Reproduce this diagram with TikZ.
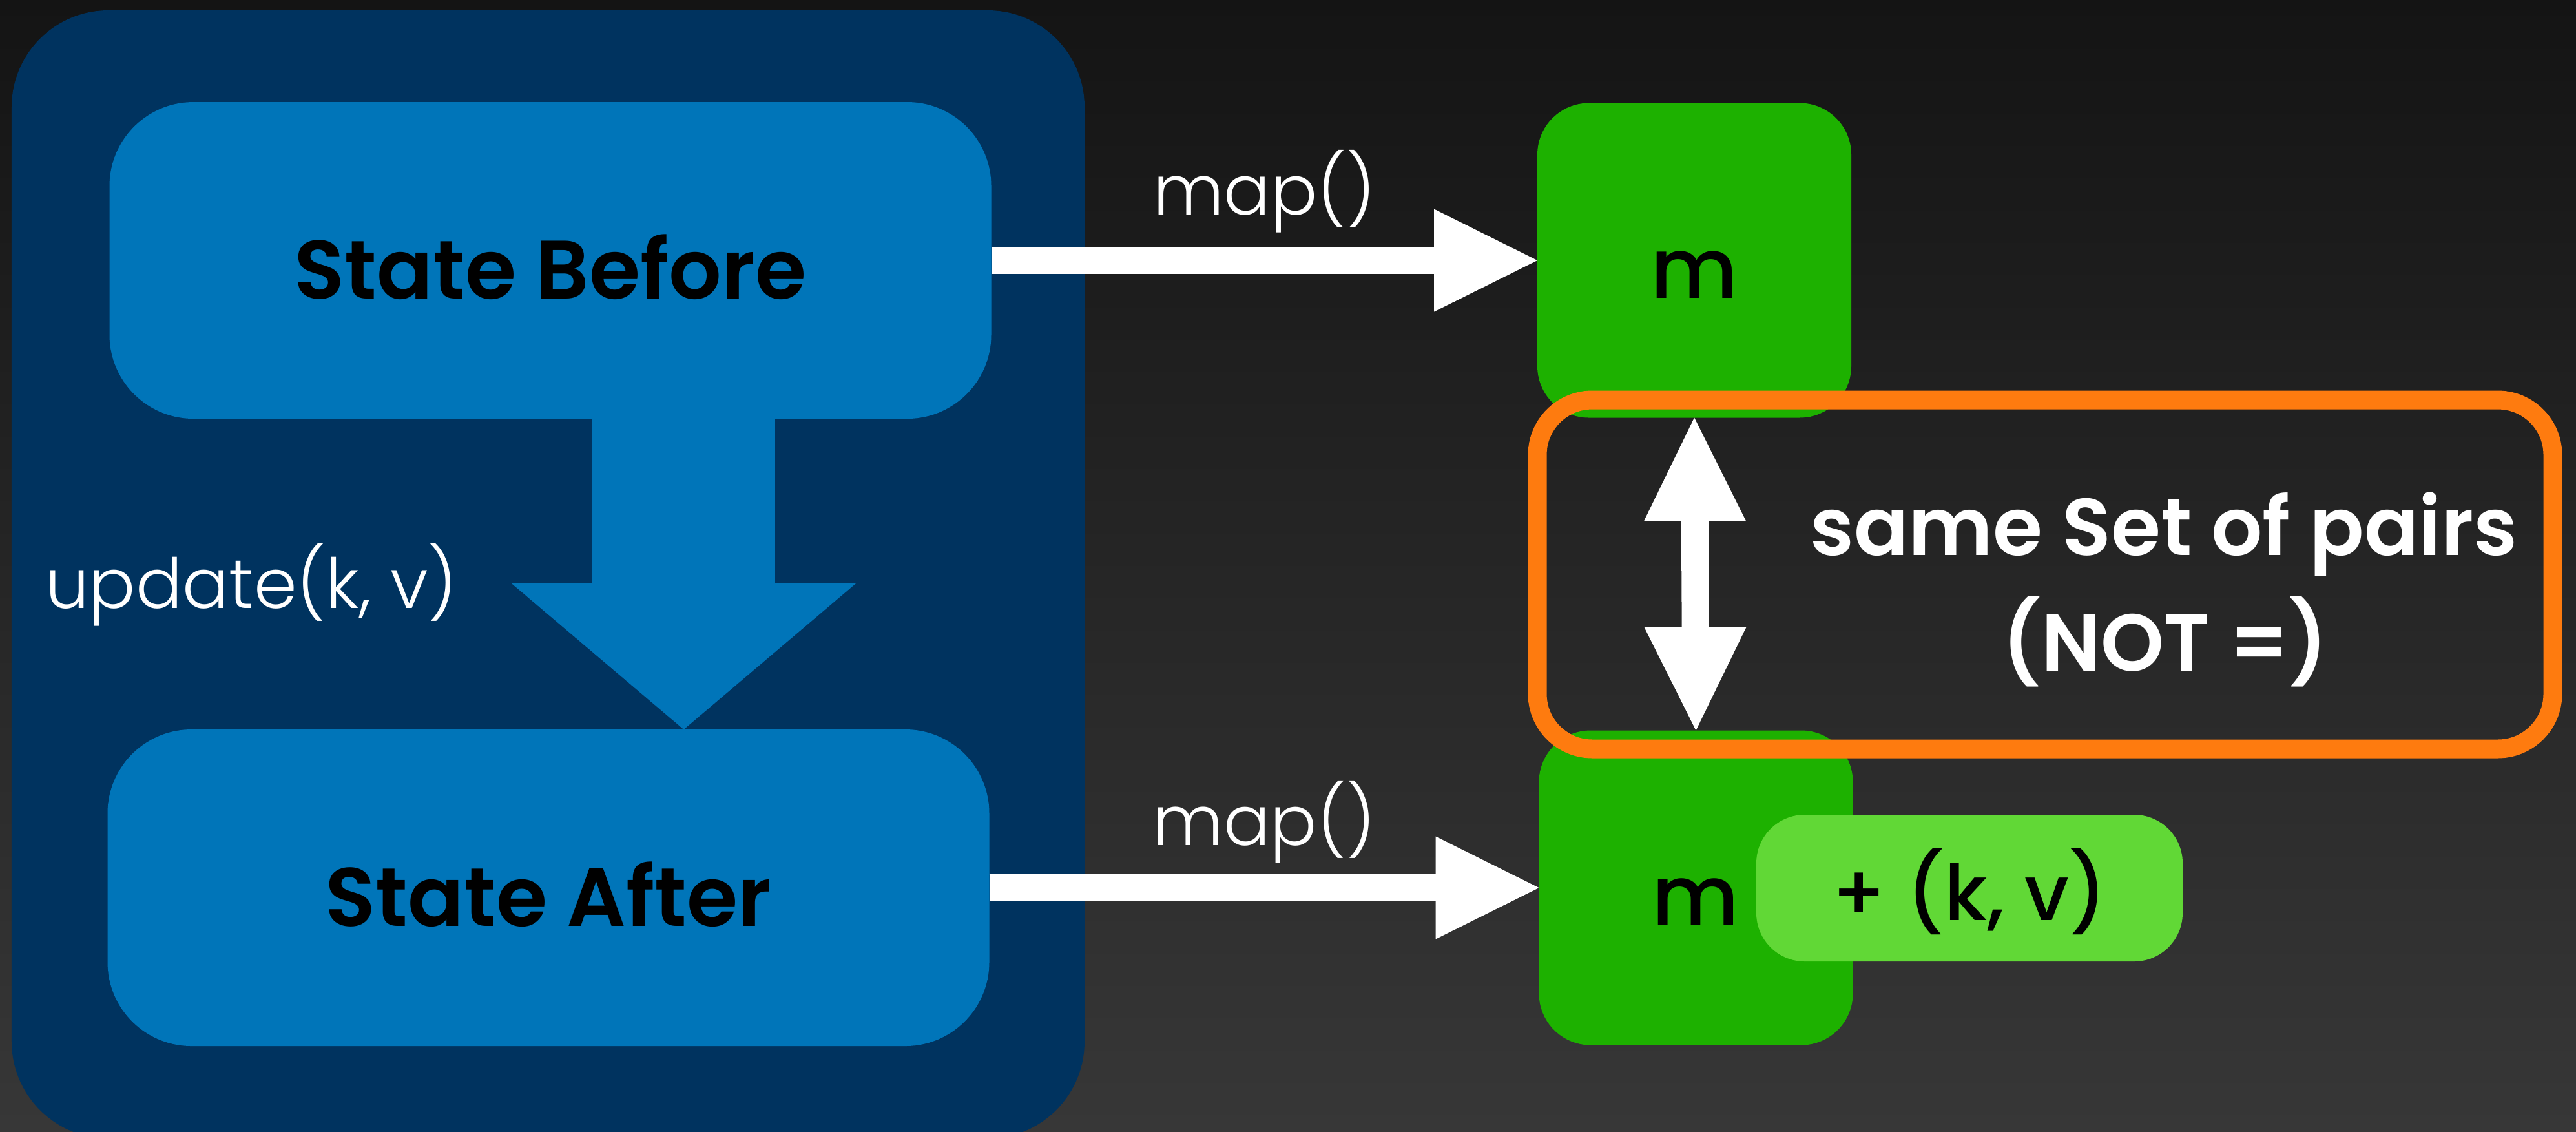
\documentclass[tikz,border=0pt]{standalone}
\usepackage{fontspec}
\setmainfont{Poppins}
\newfontfamily\poplight{Poppins Light}
\newfontfamily\popmed{Poppins Medium}
\newfontfamily\popsemi{Poppins SemiBold}
\usetikzlibrary{arrows.meta}
\definecolor{bgtop}{HTML}{141414}
\definecolor{bgbot}{HTML}{373737}
\definecolor{navy}{HTML}{00335F}
\definecolor{stblue}{HTML}{0075B9}
\definecolor{mgreen}{HTML}{1DB100}
\definecolor{lgreen}{HTML}{61D836}
\definecolor{orng}{HTML}{FE7B0F}
\tikzset{
  plain/.style={inner sep=0pt, outer sep=0pt},
  statebox/.style={plain, fill=stblue, rounded corners=1.3cm, minimum width=13.65cm, minimum height=4.90cm,
    text height=1.19cm, text depth=0pt, text=black, font=\popsemi\fontsize{36.5}{44}\selectfont},
  mbox/.style={plain, fill=mgreen, rounded corners=0.8cm, minimum width=4.86cm, minimum height=4.87cm,
    text height=1.17cm, text depth=0pt, text=black, font=\popmed\fontsize{37}{44}\selectfont},
  kvbox/.style={plain, fill=lgreen, rounded corners=0.75cm, minimum width=6.60cm, minimum height=2.27cm,
    text height=0.99cm, text depth=0pt, text=black, font=\popmed\fontsize{34}{42}\selectfont},
  pairbox/.style={plain, draw=orng, line width=0.29cm, rounded corners=0.85cm, minimum width=15.72cm, minimum height=5.40cm},
  lighttext/.style={plain, text=white, font=\poplight\fontsize{30.5}{38}\selectfont},
  boldtext/.style={plain, text=white, font=\popsemi\fontsize{35.5}{44}\selectfont},
  whitearrow/.style={draw=white, line width=0.42cm},
  maparrow/.style={whitearrow, -{Triangle[length=1.60cm,width=1.59cm,line width=0pt]}},
  dblarrow/.style={whitearrow, {Triangle[length=1.60cm,width=1.58cm,line width=0pt]}-{Triangle[length=1.60cm,width=1.58cm,line width=0pt]}},
  blockdown/.style={draw=stblue, line width=2.83cm, -{Triangle[length=2.26cm,width=5.33cm,line width=0pt]}},
}
\begin{document}
\begin{tikzpicture}
\useasboundingbox (0,0) rectangle (39.88,-17.51);
\clip (0,0) rectangle (39.88,-17.51);
\shade[top color=bgtop,bottom color=bgbot] (0,0) rectangle (39.88,-17.51);

% left panel
\node[plain, fill=navy, rounded corners=1.5cm, minimum width=16.61cm, minimum height=17.46cm] (frame) at (8.485,-8.89) {};
\node[statebox] (SB) at (8.52,-4.03) {State Before};
\node[statebox] (SA) at (8.49,-13.74) {State After};
\coordinate (dcol) at (10.585,0);
\draw[blockdown] (SB.south -| dcol) -- (SA.north -| dcol);
\node[lighttext, anchor=base west] (upd) at (0.70,-9.41) {update(k, v)};

% right side
\node[mbox] (m1) at (26.23,-4.03) {m};
\node[mbox] (m2) at (26.255,-13.74) {m};
\node[kvbox] (kv) at (30.49,-13.745) {+ (k, v)};

\draw[maparrow] (SB.east) -- (m1.west)
  node[lighttext, midway, anchor=base, yshift=0.71cm] (map1) {map()};
\draw[maparrow] (SA.east) -- (m2.west)
  node[lighttext, midway, anchor=base, yshift=0.66cm] (map2) {map()};

\node[pairbox] (pairs) at (31.66,-8.89) {};
\draw[dblarrow] (m1.south) -- (m2.north);
\node[boldtext, anchor=base] (p1) at (33.50,-8.59) {same Set of pairs};
\node[boldtext, anchor=base] (p2) at (33.52,-10.38) {(NOT =)};
\end{tikzpicture}
\end{document}
